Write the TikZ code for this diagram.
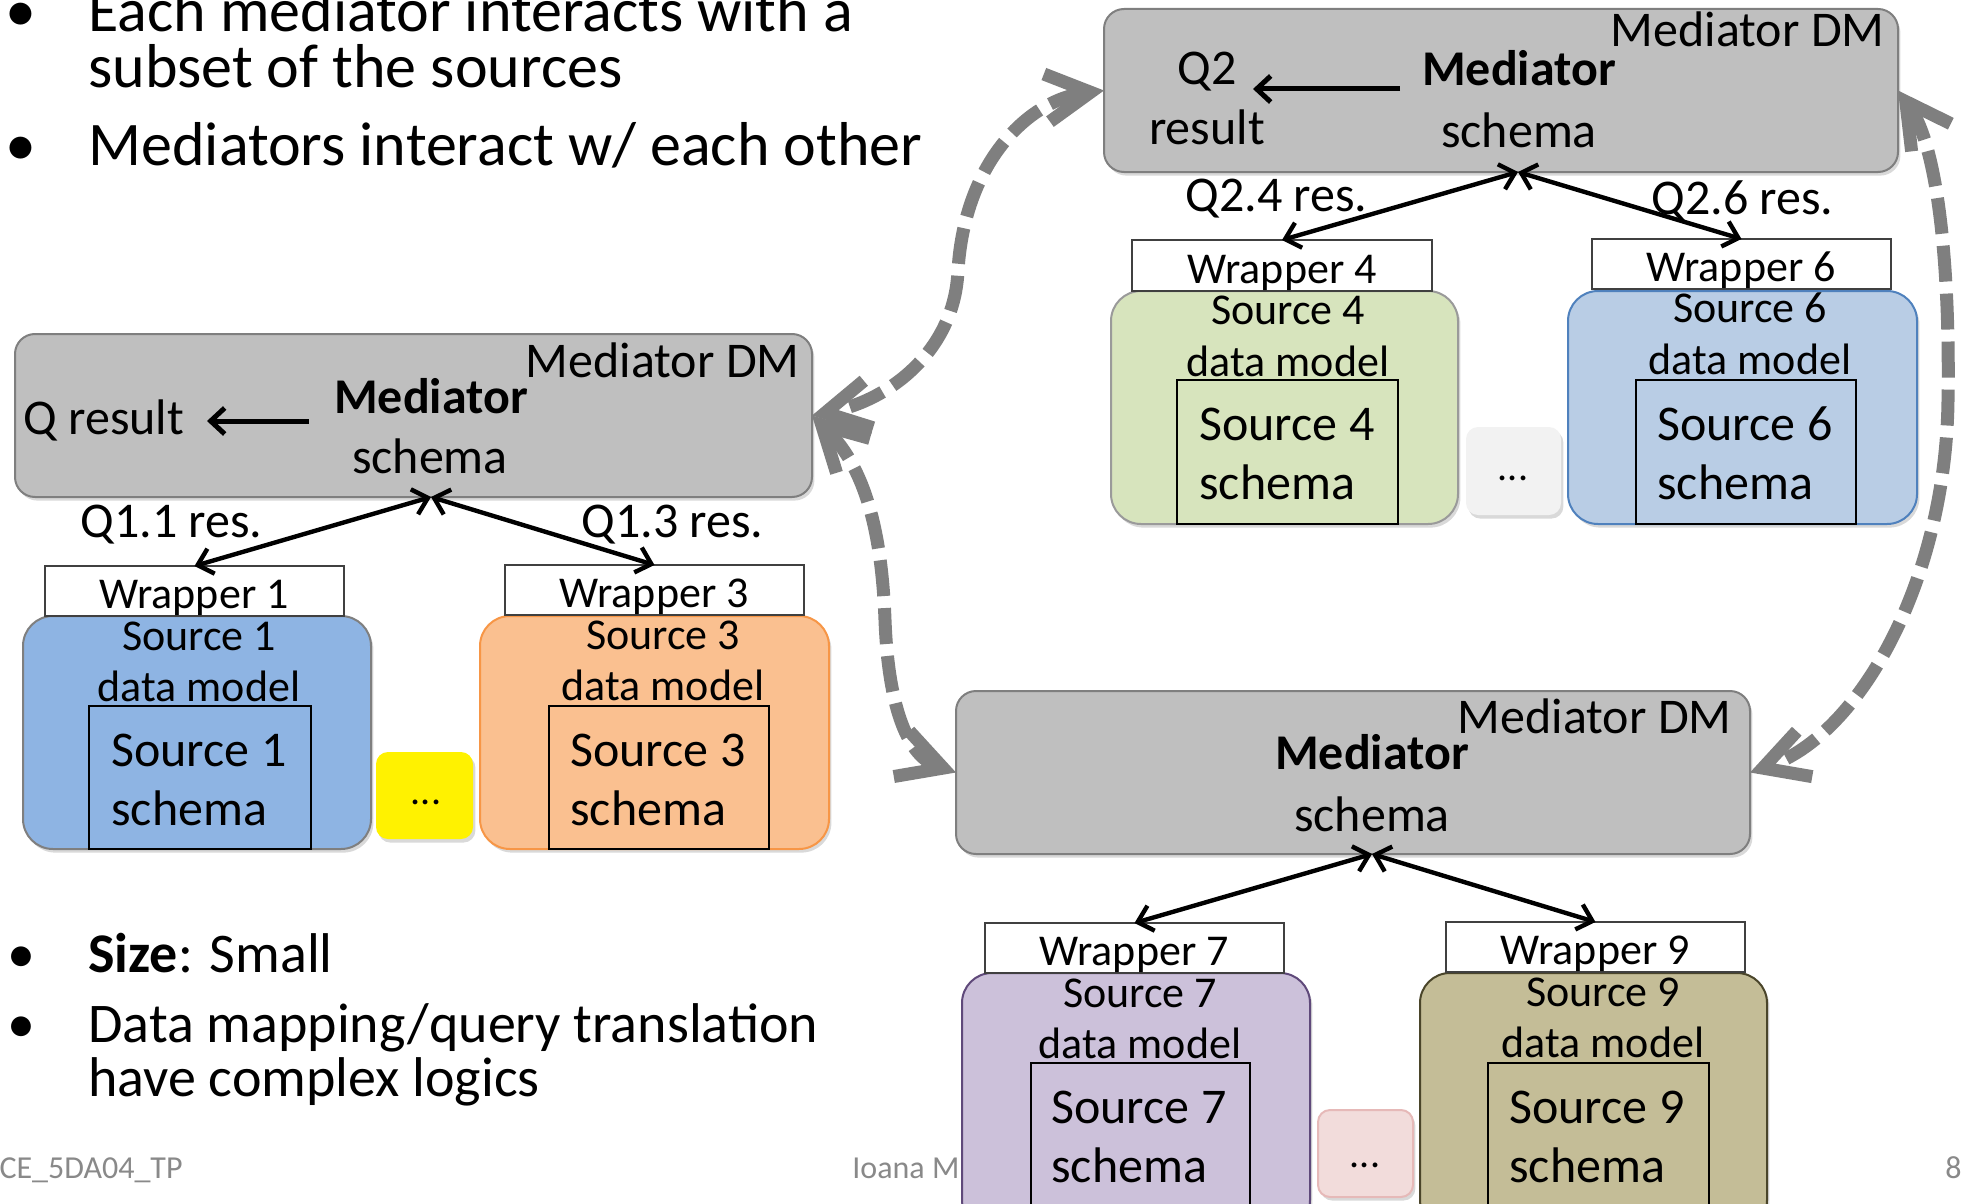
\documentclass[tikz,border=0pt]{standalone}
\usepackage{fontspec}
\setmainfont{Carlito}
\usetikzlibrary{arrows.meta,fit,shadows}
\definecolor{medfill}{HTML}{BFBFBF}
\definecolor{medline}{HTML}{7F7F7F}
\definecolor{sonefill}{HTML}{8EB4E3}
\definecolor{sthreefill}{HTML}{FAC090}
\definecolor{sthreeline}{HTML}{F79646}
\definecolor{sfourfill}{HTML}{D7E4BD}
\definecolor{sfourline}{HTML}{9A9A9A}
\definecolor{ssixfill}{HTML}{B9CDE5}
\definecolor{ssixline}{HTML}{4F81BD}
\definecolor{ssevenfill}{HTML}{CCC1DA}
\definecolor{ssevenline}{HTML}{5F497A}
\definecolor{sninefill}{HTML}{C4BD97}
\definecolor{snineline}{HTML}{4A452A}
\definecolor{dotgray}{HTML}{F2F2F2}
\definecolor{dotpink}{HTML}{F2DCDB}
\definecolor{dotpinkline}{HTML}{E6B9B8}
\definecolor{dashgray}{HTML}{7F7F7F}
\definecolor{foot}{HTML}{898989}
\begin{document}
\begin{tikzpicture}[x=0.5pt,y=-0.5pt,
 box/.style={inner sep=0pt, outer sep=0pt},
 shad/.style={drop shadow={opacity=0.3, shadow xshift=1.2pt, shadow yshift=-1.8pt}},
 medbox/.style={box, rounded corners=10pt, fill=medfill, draw=medline, line width=1pt, shad},
 srcbox/.style={box, rounded corners=15pt, line width=1pt, shad},
 wrapbox/.style={box, fill=white, draw=black!75, line width=1pt},
 schbox/.style={box, draw=black, line width=0.8pt},
 dotbox/.style={box, rounded corners=6pt, shad},
 tl/.style={inner sep=0pt, font=\fontsize{25pt}{30pt}\selectfont},
 bl/.style={inner sep=0pt, font=\fontsize{25pt}{30pt}\selectfont\bfseries},
 ts/.style={inner sep=0pt, font=\fontsize{22pt}{26pt}\selectfont},
 td/.style={inner sep=0pt, font=\fontsize{20pt}{24pt}\selectfont},
 topt/.style={inner sep=0pt, font=\fontsize{31pt}{37pt}\selectfont},
 bott/.style={inner sep=0pt, font=\fontsize{28pt}{34pt}\selectfont},
 foottxt/.style={inner sep=0pt, text=foot, font=\fontsize{16pt}{19pt}\selectfont},
 dbl/.style={line width=2.2pt, {Straight Barb[length=7pt,width=13pt]}-{Straight Barb[length=7pt,width=13pt]}},
 qarr/.style={line width=2.5pt, -{Straight Barb[length=7pt,width=13pt]}},
 link/.style={draw=dashgray, line width=6.5pt, dash pattern=on 18pt off 6pt,
   {Straight Barb[length=22pt,width=24pt]}-{Straight Barb[length=22pt,width=24pt]}},
]
\useasboundingbox (0,0) rectangle (1964,1204);

% ---------- bullet texts ----------
\node[topt, anchor=base] (bu1) at (21,32) {•};
\node[topt, anchor=base west] (tx1) at (88,32) {Each mediator interacts with a};
\node[topt, anchor=base west] (tx2) at (88,88) {subset of the sources};
\node[topt, anchor=base] (bu2) at (21,165) {•};
\node[topt, anchor=base west] (tx3) at (88,165) {Mediators interact w/ each other};

\node[bott, anchor=base] (bu3) at (21,972) {•};
\node[bott, anchor=base west] (tx4) at (88,972) {\textbf{Size}: Small};
\node[bott, anchor=base] (bu4) at (21,1042) {•};
\node[bott, anchor=base west] (tx5) at (88,1042) {Data mapping/query translation};
\node[bott, anchor=base west] (tx6) at (88,1096) {have complex logics};

% ---------- footer ----------
\node[foottxt, anchor=base east] (ft1) at (183,1178) {CE\_5DA04\_TP};
\node[foottxt, anchor=base west] (ft2) at (852,1178) {Ioana M};
\node[foottxt, anchor=base west] (ft3) at (1945,1178) {8};

% ================= left group =================
\node[medbox, fit={(15,334) (812,497)}] (med1) {};
\node[tl, anchor=base east] (med1dm) at (800,377) {Mediator DM};
\node[bl, anchor=base] (med1t) at (431,413) {Mediator};
\node[tl, anchor=base] (med1s) at (430,473) {schema};
\node[tl, anchor=base west] (q1r) at (23,434) {Q result};
\coordinate (q1a) at (309,421);
\coordinate (q1b) at (207,421);
\draw[qarr] (q1a) -- (q1b);
\coordinate (med1p) at (431,497);
\node[tl, anchor=base west] (q11) at (80,537) {Q1.1 res.};
\node[tl, anchor=base west] (q13) at (581,537) {Q1.3 res.};

\node[srcbox, fill=sonefill, draw=medline, fit={(23,616) (371,849)}] (src1) {};
\node[schbox, fit={(89,706) (311,849)}] (sch1) {};
\node[wrapbox, fit={(45,566) (344,616)}] (wr1) {};
\node[ts, anchor=base] (wr1t) at (194,608) {Wrapper 1};
\node[ts, anchor=base] (src1a) at (199,650) {Source 1};
\node[ts, anchor=base] (src1b) at (199,701) {data model};
\node[tl, anchor=base west] (sch1a) at (111,766) {Source 1};
\node[tl, anchor=base west] (sch1b) at (111,825) {schema};

\node[dotbox, fill=yellow, fit={(376,752) (473,839)}] (dot1) {};
\node[td] (dot1t) at (426,802) {...};

\node[srcbox, fill=sthreefill, draw=sthreeline, fit={(480,616) (829,849)}] (src3) {};
\node[schbox, fit={(549,706) (769,849)}] (sch3) {};
\node[wrapbox, fit={(505,565) (804,615)}] (wr3) {};
\node[ts, anchor=base] (wr3t) at (654,607) {Wrapper 3};
\node[ts, anchor=base] (src3a) at (663,649) {Source 3};
\node[ts, anchor=base] (src3b) at (663,700) {data model};
\node[tl, anchor=base west] (sch3a) at (570,766) {Source 3};
\node[tl, anchor=base west] (sch3b) at (570,825) {schema};

\draw[dbl] (wr1.north) -- (med1p);
\draw[dbl] (wr3.north) -- (med1p);

% ================= top-right group =================
\node[medbox, fit={(1104,9) (1898,172)}] (med2) {};
\node[tl, anchor=base east] (med2dm) at (1885,47) {Mediator DM};
\node[bl, anchor=base] (med2t) at (1519,86) {Mediator};
\node[tl, anchor=base] (med2s) at (1519,148) {schema};
\node[tl, anchor=base] (q2a) at (1207,85) {Q2};
\node[tl, anchor=base] (q2b) at (1207,144) {result};
\coordinate (q2s) at (1400,89);
\coordinate (q2e) at (1253,89);
\draw[qarr] (q2s) -- (q2e);
\coordinate (med2p) at (1518,172);
\node[tl, anchor=base west] (q24) at (1185,211) {Q2.4 res.};
\node[tl, anchor=base west] (q26) at (1651,214) {Q2.6 res.};

\node[srcbox, fill=sfourfill, draw=sfourline, fit={(1111,291) (1458,524)}] (src4) {};
\node[schbox, fit={(1177,380) (1398,524)}] (sch4) {};
\node[wrapbox, fit={(1132,240) (1432,291)}] (wr4) {};
\node[ts, anchor=base] (wr4t) at (1282,283) {Wrapper 4};
\node[ts, anchor=base] (src4a) at (1288,324) {Source 4};
\node[ts, anchor=base] (src4b) at (1288,376) {data model};
\node[tl, anchor=base west] (sch4a) at (1199,440) {Source 4};
\node[tl, anchor=base west] (sch4b) at (1199,499) {schema};

\node[dotbox, fill=dotgray, fit={(1466,427) (1561,515)}] (dot2) {};
\node[td] (dot2t) at (1513,478) {...};

\node[srcbox, fill=ssixfill, draw=ssixline, fit={(1568,291) (1917,524)}] (src6) {};
\node[schbox, fit={(1636,380) (1856,524)}] (sch6) {};
\node[wrapbox, fit={(1592,239) (1891,289)}] (wr6) {};
\node[ts, anchor=base] (wr6t) at (1741,281) {Wrapper 6};
\node[ts, anchor=base] (src6a) at (1750,322) {Source 6};
\node[ts, anchor=base] (src6b) at (1750,374) {data model};
\node[tl, anchor=base west] (sch6a) at (1657,440) {Source 6};
\node[tl, anchor=base west] (sch6b) at (1657,499) {schema};

\draw[dbl] (wr4.north) -- (med2p);
\draw[dbl] (wr6.north) -- (med2p);

% ================= bottom group =================
\node[medbox, fit={(956,691) (1750,854)}] (med3) {};
\node[tl, anchor=base east] (med3dm) at (1732,733) {Mediator DM};
\node[bl, anchor=base] (med3t) at (1372,769) {Mediator};
\node[tl, anchor=base] (med3s) at (1372,831) {schema};
\coordinate (med3p) at (1372,854);

\node[srcbox, fill=ssevenfill, draw=ssevenline, fit={(962,973) (1310,1230)}] (src7) {};
\node[schbox, fit={(1031,1063) (1250,1230)}] (sch7) {};
\node[wrapbox, fit={(985,923) (1284,973)}] (wr7) {};
\node[ts, anchor=base] (wr7t) at (1134,965) {Wrapper 7};
\node[ts, anchor=base] (src7a) at (1140,1007) {Source 7};
\node[ts, anchor=base] (src7b) at (1140,1058) {data model};
\node[tl, anchor=base west] (sch7a) at (1051,1123) {Source 7};
\node[tl, anchor=base west] (sch7b) at (1051,1182) {schema};

\node[dotbox, fill=dotpink, draw=dotpinkline, line width=1pt, fit={(1318,1110) (1413,1197)}] (dot3) {};
\node[td] (dot3t) at (1365,1165) {...};

\node[srcbox, fill=sninefill, draw=snineline, fit={(1420,973) (1767,1230)}] (src9) {};
\node[schbox, fit={(1488,1063) (1709,1230)}] (sch9) {};
\node[wrapbox, fit={(1446,922) (1745,972)}] (wr9) {};
\node[ts, anchor=base] (wr9t) at (1595,964) {Wrapper 9};
\node[ts, anchor=base] (src9a) at (1603,1006) {Source 9};
\node[ts, anchor=base] (src9b) at (1603,1057) {data model};
\node[tl, anchor=base west] (sch9a) at (1509,1123) {Source 9};
\node[tl, anchor=base west] (sch9b) at (1509,1182) {schema};

\draw[dbl] (wr7.north) -- (med3p);
\draw[dbl] (wr9.north) -- (med3p);

% ================= mediator links =================
\draw[link] (med2.west) .. controls (1030,100) and (965,160) .. (958,270)
  .. controls (955,350) and (890,400) .. (med1.east);
\draw[link] (med1.east) .. controls (868,470) and (882,540) .. (885,620)
  .. controls (888,700) and (905,755) .. (med3.west);
\draw[link] (med2.east) .. controls (1940,150) and (1950,280) .. (1948,400)
  .. controls (1946,580) and (1860,735) .. (med3.east);
\end{tikzpicture}
\end{document}
